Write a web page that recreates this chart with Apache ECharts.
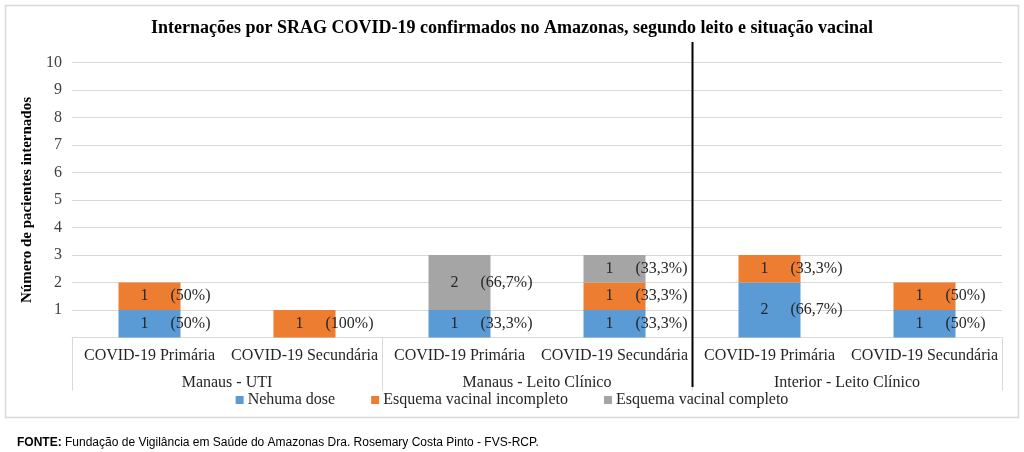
<!DOCTYPE html>
<html>
<head>
<meta charset="utf-8">
<script src="https://cdn.jsdelivr.net/npm/echarts@6/dist/echarts.min.js"></script>
<style>html,body{margin:0;padding:0;background:#fff}#c{width:1024px;height:452px}</style>
</head>
<body>
<div id="c"></div>
<script>
var categories = ["COVID-19 Primária","COVID-19 Secundária","COVID-19 Primária","COVID-19 Secundária","COVID-19 Primária","COVID-19 Secundária"];
var groups = ["Manaus - UTI","Manaus - Leito Clínico","Interior - Leito Clínico"];
var seriesNames = ["Nehuma dose","Esquema vacinal incompleto","Esquema vacinal completo"];
var nenhuma = [1, 0, 1, 1, 2, 1];
var incompleto = [1, 1, 0, 1, 1, 1];
var completo = [0, 0, 2, 1, 0, 0];
var pctNenhuma = ["(50%)", "", "(33,3%)", "(33,3%)", "(66,7%)", "(50%)"];
var pctIncompleto = ["(50%)", "(100%)", "", "(33,3%)", "(33,3%)", "(50%)"];
var pctCompleto = ["", "", "(66,7%)", "(33,3%)", "", ""];
var yTicks = [0,1,2,3,4,5,6,7,8,9,10];

var serif = "'Liberation Serif','DejaVu Serif',serif";
var sans = "'Liberation Sans','DejaVu Sans',sans-serif";
var colors = ['#5b9bd5','#ed7d31','#a5a5a5'];

function mkSeries(name, vals, pcts, color) {
  return {
    name: name, type: 'bar', stack: 'total', barWidth: '40%',
    itemStyle: {color: color},
    data: vals,
    label: {
      show: true, position: 'insideLeft', distance: 0,
      formatter: function (p) {
        if (!p.value) return '';
        return '{v|' + p.value + '}{p|' + pcts[p.dataIndex] + '}';
      },
      rich: {
        v: {width: 52, align: 'center', fontFamily: serif, fontSize: 16, color: '#262626'},
        p: {fontFamily: serif, fontSize: 16, color: '#262626'}
      }
    }
  };
}

var chart = echarts.init(document.getElementById('c'), null, {renderer: 'canvas'});
var option = {
  animation: false,
  color: colors,
  title: [{
    text: 'Internações por SRAG COVID-19 confirmados no Amazonas, segundo leito e situação vacinal',
    left: 'center', top: 14,
    textStyle: {fontFamily: serif, fontWeight: 'bold', fontSize: 18, color: '#000'}
  }, {
    text: '{b|FONTE:} Fundação de Vigilância em Saúde do Amazonas Dra. Rosemary Costa Pinto - FVS-RCP.',
    left: 12, top: 432,
    textStyle: {
      fontFamily: sans, fontSize: 12, fontWeight: 'normal', color: '#000',
      rich: {b: {fontFamily: sans, fontSize: 12, fontWeight: 'bold', color: '#000'}}
    }
  }],
  grid: {left: 72, right: 22, top: 62.5, bottom: 114.5},
  legend: {
    data: seriesNames, top: 387, left: 'center', icon: 'rect',
    itemWidth: 8, itemHeight: 8, itemGap: 36,
    textStyle: {fontFamily: serif, fontSize: 16, color: '#262626', padding: [0,0,0,-1]}
  },
  xAxis: [{
    type: 'category', data: categories, position: 'bottom',
    axisLine: {lineStyle: {color: '#d9d9d9', width: 1}},
    axisTick: {show: false},
    axisLabel: {interval: 0, margin: 10, fontFamily: serif, fontSize: 16, color: '#262626'}
  }, {
    type: 'category', data: groups, position: 'bottom', offset: 0,
    axisLine: {show: false},
    axisTick: {show: true, length: 53, interval: 0, lineStyle: {color: '#d9d9d9', width: 1}},
    axisLabel: {interval: 0, margin: 37, fontFamily: serif, fontSize: 16, color: '#262626'}
  }],
  yAxis: {
    type: 'value', min: yTicks[0], max: yTicks[yTicks.length - 1], interval: 1,
    name: 'Número de pacientes internados', nameLocation: 'middle', nameGap: 36, nameRotate: 90,
    nameTextStyle: {fontFamily: serif, fontWeight: 'bold', fontSize: 15, color: '#000'},
    axisLine: {show: false}, axisTick: {show: false},
    splitLine: {lineStyle: {color: '#d9d9d9', width: 1}},
    axisLabel: {margin: 10, fontFamily: serif, fontSize: 16, color: '#404040',
      formatter: function (v) { return v === 0 ? '' : String(v); }}
  },
  series: [
    mkSeries(seriesNames[0], nenhuma, pctNenhuma, colors[0]),
    mkSeries(seriesNames[1], incompleto, pctIncompleto, colors[1]),
    mkSeries(seriesNames[2], completo, pctCompleto, colors[2])
  ]
};
chart.setOption(option);

// separator between Manaus and Interior groups
var xa = chart.convertToPixel({xAxisIndex: 0}, 3);
var xb = chart.convertToPixel({xAxisIndex: 0}, 4);
var xSep = Math.round((xa + xb) / 2) + 0.5;
chart.setOption({
  graphic: [{
    type: 'rect', silent: true, z: -1,
    shape: {x: 5.5, y: 5.5, width: 1013, height: 412},
    style: {fill: 'none', stroke: '#d9d9d9', lineWidth: 1.5}
  }, {
    type: 'line', silent: true, z: 100,
    shape: {x1: xSep, y1: 42, x2: xSep, y2: 387},
    style: {stroke: '#000', lineWidth: 2}
  }]
});
</script>
</body>
</html>
